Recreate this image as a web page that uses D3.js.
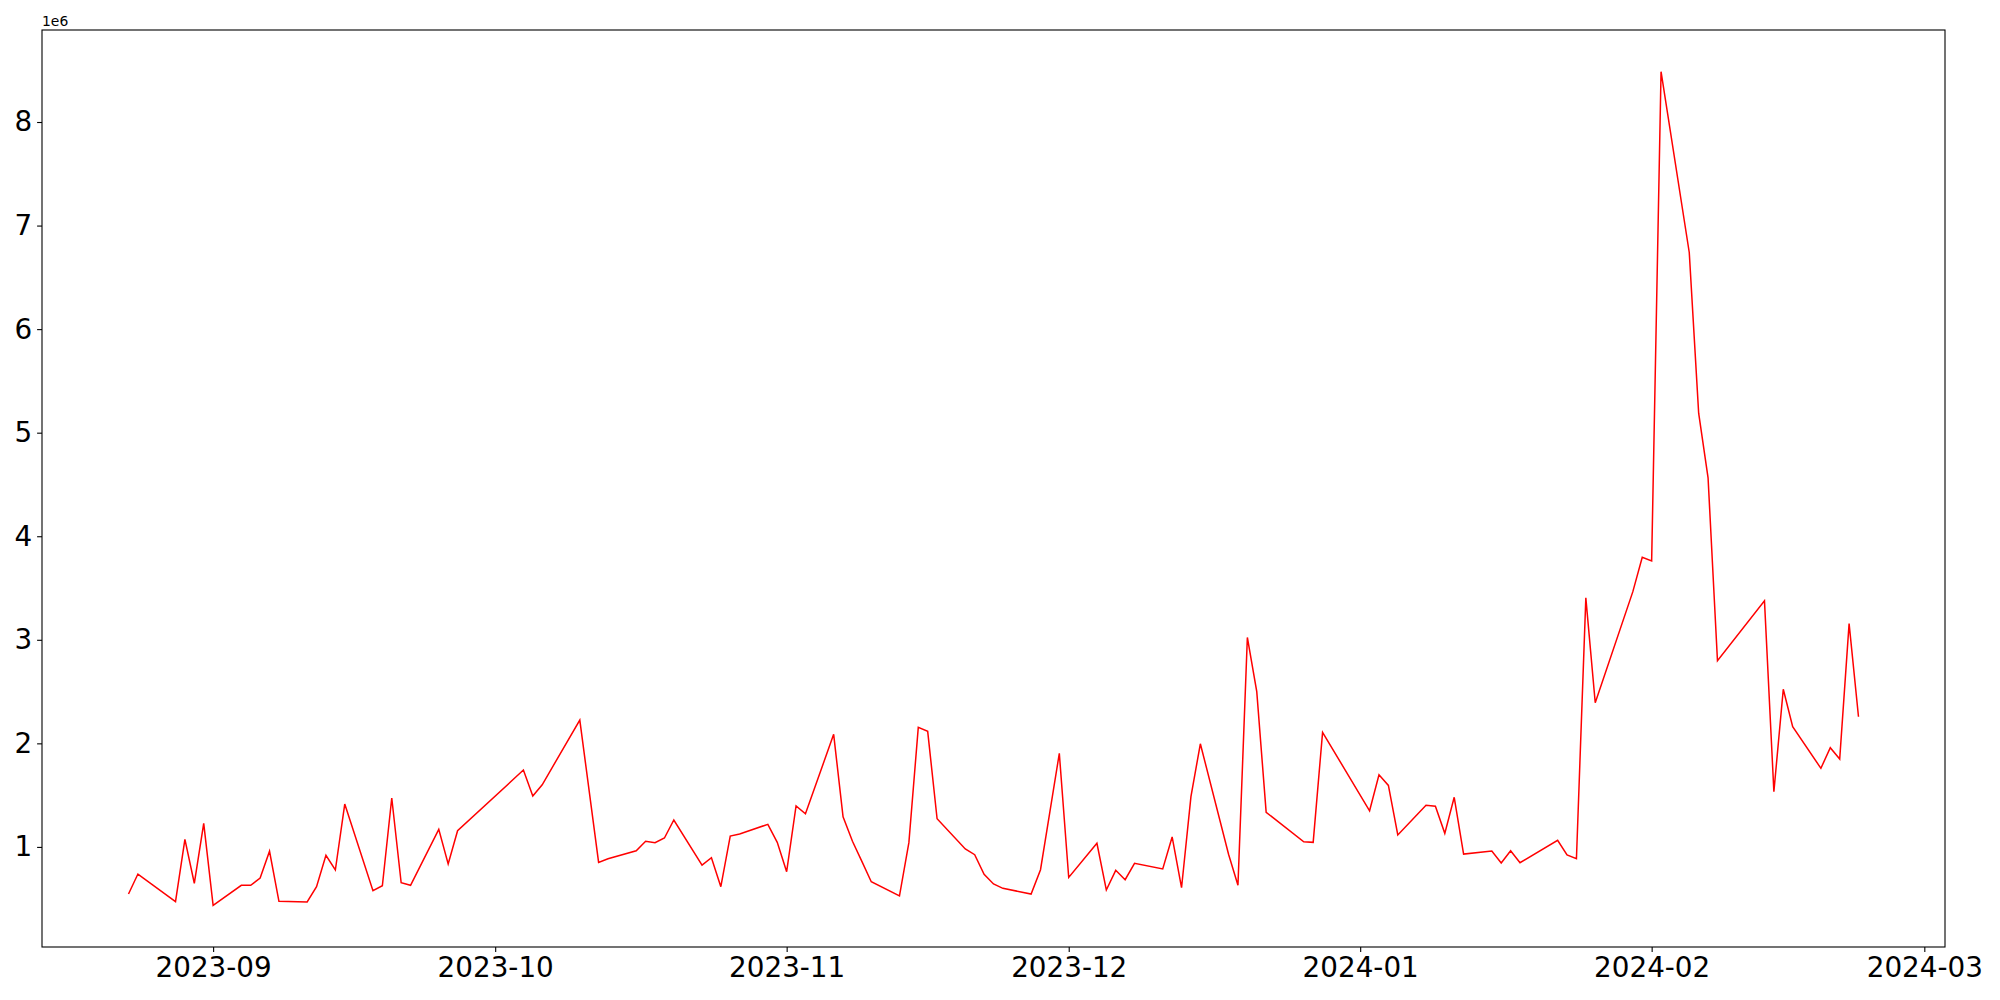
<!DOCTYPE html>
<html>
<head>
<meta charset="utf-8">
<script src="https://cdn.jsdelivr.net/npm/d3@7"></script>
<style>
	body { margin: 0; background: #fff; }
	text { font-family: "DejaVu Sans", sans-serif; }
</style>
</head>
<body>
<div id="viz"></div>
<script>

// dates of each observation (trading days)
var dates = [
	'2023-08-23','2023-08-24','2023-08-28','2023-08-29','2023-08-30','2023-08-31','2023-09-01',
	'2023-09-04','2023-09-05','2023-09-06','2023-09-07','2023-09-08',
	'2023-09-11','2023-09-12','2023-09-13','2023-09-14','2023-09-15',
	'2023-09-18','2023-09-19','2023-09-20','2023-09-21','2023-09-22',
	'2023-09-25','2023-09-26','2023-09-27',
	'2023-10-04','2023-10-05','2023-10-06','2023-10-10','2023-10-12','2023-10-13',
	'2023-10-16','2023-10-17','2023-10-18','2023-10-19','2023-10-20',
	'2023-10-23','2023-10-24','2023-10-25','2023-10-26','2023-10-27',
	'2023-10-30','2023-10-31','2023-11-01','2023-11-02','2023-11-03',
	'2023-11-06','2023-11-07','2023-11-08','2023-11-09','2023-11-10',
	'2023-11-13','2023-11-14','2023-11-15','2023-11-16','2023-11-17',
	'2023-11-20','2023-11-21','2023-11-22','2023-11-23','2023-11-24',
	'2023-11-27','2023-11-28','2023-11-29','2023-11-30','2023-12-01',
	'2023-12-04','2023-12-05','2023-12-06','2023-12-07','2023-12-08',
	'2023-12-11','2023-12-12','2023-12-13','2023-12-14','2023-12-15',
	'2023-12-18','2023-12-19','2023-12-20','2023-12-21','2023-12-22',
	'2023-12-26','2023-12-27','2023-12-28',
	'2024-01-02','2024-01-03','2024-01-04','2024-01-05',
	'2024-01-08','2024-01-09','2024-01-10','2024-01-11','2024-01-12',
	'2024-01-15','2024-01-16','2024-01-17','2024-01-18',
	'2024-01-22','2024-01-23','2024-01-24','2024-01-25','2024-01-26',
	'2024-01-30','2024-01-31','2024-02-01','2024-02-02',
	'2024-02-05','2024-02-06','2024-02-07','2024-02-08',
	'2024-02-13','2024-02-14','2024-02-15','2024-02-16',
	'2024-02-19','2024-02-20','2024-02-21','2024-02-22','2024-02-23'
];

// values
var values = [
	545000, 738000, 471000, 1073000, 649000, 1228000, 436000,
	629000, 629000, 700000, 958000, 475000,
	468000, 616000, 919000, 777000, 1414000,
	577000, 625000, 1472000, 654000, 629000,
	1170000, 835000, 1156000,
	1742000, 1491000, 1600000, 2225000, 851000, 886000,
	963000, 1054000, 1041000, 1086000, 1260000,
	825000, 896000, 616000, 1105000, 1125000,
	1218000, 1044000, 761000, 1395000, 1320000,
	2087000, 1290000, 1055000, 860000, 664000,
	527000, 1041000, 2154000, 2116000, 1272000,
	980000, 925000, 735000, 642000, 600000,
	545000, 780000, 1340000, 1903000, 705000,
	1035000, 584000, 774000, 683000, 842000,
	787000, 1096000, 606000, 1485000, 1996000,
	929000, 629000, 3023000, 2500000, 1334000,
	1050000, 1044000, 2106000,
	1349000, 1697000, 1594000, 1115000,
	1402000, 1392000, 1131000, 1479000, 931000,
	960000, 845000, 963000, 848000,
	1064000, 922000, 886000, 3405000, 2392000,
	3465000, 3797000, 3762000, 8486000,
	6740000, 5188000, 4564000, 2797000,
	3376000, 1533000, 2523000, 2160000,
	1759000, 1958000, 1848000, 3156000, 2257000
];

// y tick values
var yTicks = [1e6, 2e6, 3e6, 4e6, 5e6, 6e6, 7e6, 8e6];

var width = 2000;
var height = 1000;
var margin = {top: 30, right: 55, bottom: 53, left: 42};

var parseDate = d3.utcParse('%Y-%m-%d');
var data = dates.map(function(d, i) {
	return {date: parseDate(d), value: values[i]};
});

var svg = d3.select('#viz').append('svg')
	.attr('width', width)
	.attr('height', height);

// matplotlib style 5% padding on both axes
var xExt = d3.extent(data, function(d) { return d.date; });
var xPad = (xExt[1] - xExt[0]) * 0.05;
var yExt = d3.extent(data, function(d) { return d.value; });
var yPad = (yExt[1] - yExt[0]) * 0.05;

var x = d3.scaleUtc()
	.domain([new Date(+xExt[0] - xPad), new Date(+xExt[1] + xPad)])
	.range([margin.left, width - margin.right]);

var y = d3.scaleLinear()
	.domain([yExt[0] - yPad, yExt[1] + yPad])
	.range([height - margin.bottom, margin.top]);

var tickSize = 4.9;
var tickPad = 4.9;

// x axis
var xAxis = svg.append('g')
	.attr('transform', 'translate(0,' + (height - margin.bottom) + ')')
	.call(d3.axisBottom(x)
		.ticks(d3.utcMonth.every(1))
		.tickFormat(d3.utcFormat('%Y-%m'))
		.tickSize(tickSize)
		.tickPadding(tickPad)
		.tickSizeOuter(0));
xAxis.select('.domain').remove();
xAxis.selectAll('text')
	.attr('fill', '#000')
	.attr('style', 'font-size: 27.8px');
xAxis.selectAll('line').attr('stroke', '#000').attr('stroke-width', 1.1);

// y axis
var yAxis = svg.append('g')
	.attr('transform', 'translate(' + margin.left + ',0)')
	.call(d3.axisLeft(y)
		.tickValues(yTicks)
		.tickFormat(function(d) { return d / 1e6; })
		.tickSize(tickSize)
		.tickPadding(tickPad)
		.tickSizeOuter(0));
yAxis.select('.domain').remove();
yAxis.selectAll('text')
	.attr('fill', '#000')
	.attr('style', 'font-size: 27.8px');
yAxis.selectAll('line').attr('stroke', '#000').attr('stroke-width', 1.1);

// clip path for the plot area
svg.append('clipPath')
	.attr('id', 'plotClip')
	.append('rect')
	.attr('x', margin.left)
	.attr('y', margin.top)
	.attr('width', width - margin.left - margin.right)
	.attr('height', height - margin.top - margin.bottom);

// the series line
var line = d3.line()
	.x(function(d) { return x(d.date); })
	.y(function(d) { return y(d.value); });

svg.append('path')
	.datum(data)
	.attr('clip-path', 'url(#plotClip)')
	.attr('d', line)
	.attr('fill', 'none')
	.attr('stroke', '#ff0000')
	.attr('stroke-width', 1.5)
	.attr('stroke-linejoin', 'miter');

// axes frame
svg.append('rect')
	.attr('x', margin.left)
	.attr('y', margin.top)
	.attr('width', width - margin.left - margin.right)
	.attr('height', height - margin.top - margin.bottom)
	.attr('fill', 'none')
	.attr('stroke', '#000')
	.attr('stroke-width', 1.1);

// offset text for the y axis
svg.append('text')
	.attr('x', margin.left)
	.attr('y', margin.top - 4)
	.attr('style', 'font-size: 13.9px')
	.text('1e6');

</script>
</body>
</html>
